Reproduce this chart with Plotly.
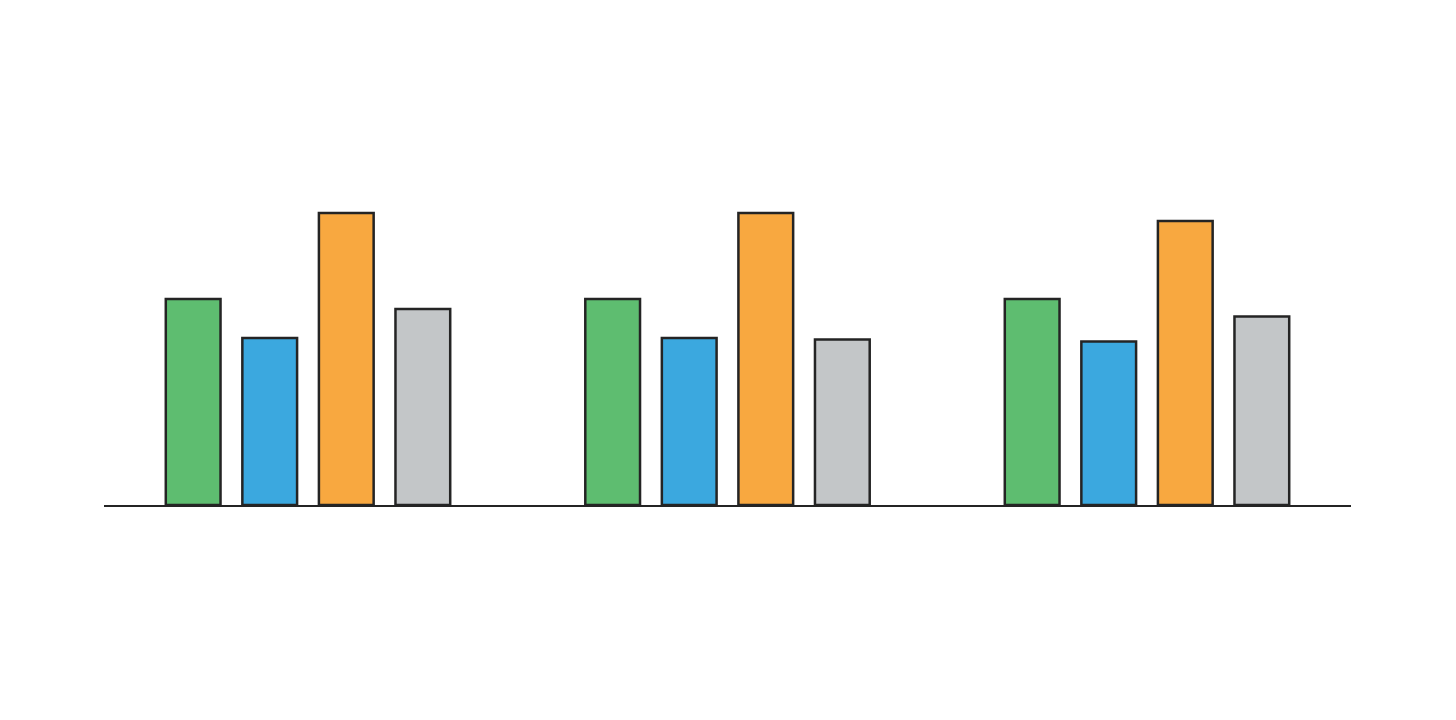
import plotly.graph_objects as go

# ── Data ───────────────────────────────────────────────────────
GROUPS = ["A", "B", "C"]
GREEN_VALUES = [68.7, 68.7, 68.7]
BLUE_VALUES = [55.7, 55.7, 54.5]
ORANGE_VALUES = [97.3, 97.3, 94.7]
GREY_VALUES = [65.3, 55.2, 62.8]

# ── Colours ────────────────────────────────────────────────────
BACKGROUND = "#ffffff"
OUTLINE = "#242424"
COLORS = {
    "green": "#5ebd70",
    "blue": "#3ba8df",
    "orange": "#f8a840",
    "grey": "#c3c6c8",
}

series = [
    ("Green", GREEN_VALUES, COLORS["green"]),
    ("Blue", BLUE_VALUES, COLORS["blue"]),
    ("Orange", ORANGE_VALUES, COLORS["orange"]),
    ("Grey", GREY_VALUES, COLORS["grey"]),
]

fig = go.Figure()

for name, values, color in series:
    fig.add_trace(go.Bar(
        x=GROUPS,
        y=values,
        name=name,
        marker=dict(color=color, line=dict(color=OUTLINE, width=2.5)),
    ))

# page body adds an 8px offset, so margins are shifted to compensate
fig.update_layout(
    width=1456,
    height=720,
    barmode="group",
    bargap=0.27,
    bargroupgap=0.285,
    showlegend=False,
    plot_bgcolor=BACKGROUND,
    paper_bgcolor=BACKGROUND,
    margin=dict(l=96, r=113, t=92, b=223, pad=0),
    xaxis=dict(
        range=[-0.4863, 2.4863],
        showgrid=False,
        showticklabels=False,
        ticks="",
        showline=True,
        linecolor=OUTLINE,
        linewidth=2,
        zeroline=False,
    ),
    yaxis=dict(
        range=[0, 135],
        showgrid=False,
        showticklabels=False,
        ticks="",
        showline=False,
        zeroline=False,
    ),
)

fig.write_html("out.html")
